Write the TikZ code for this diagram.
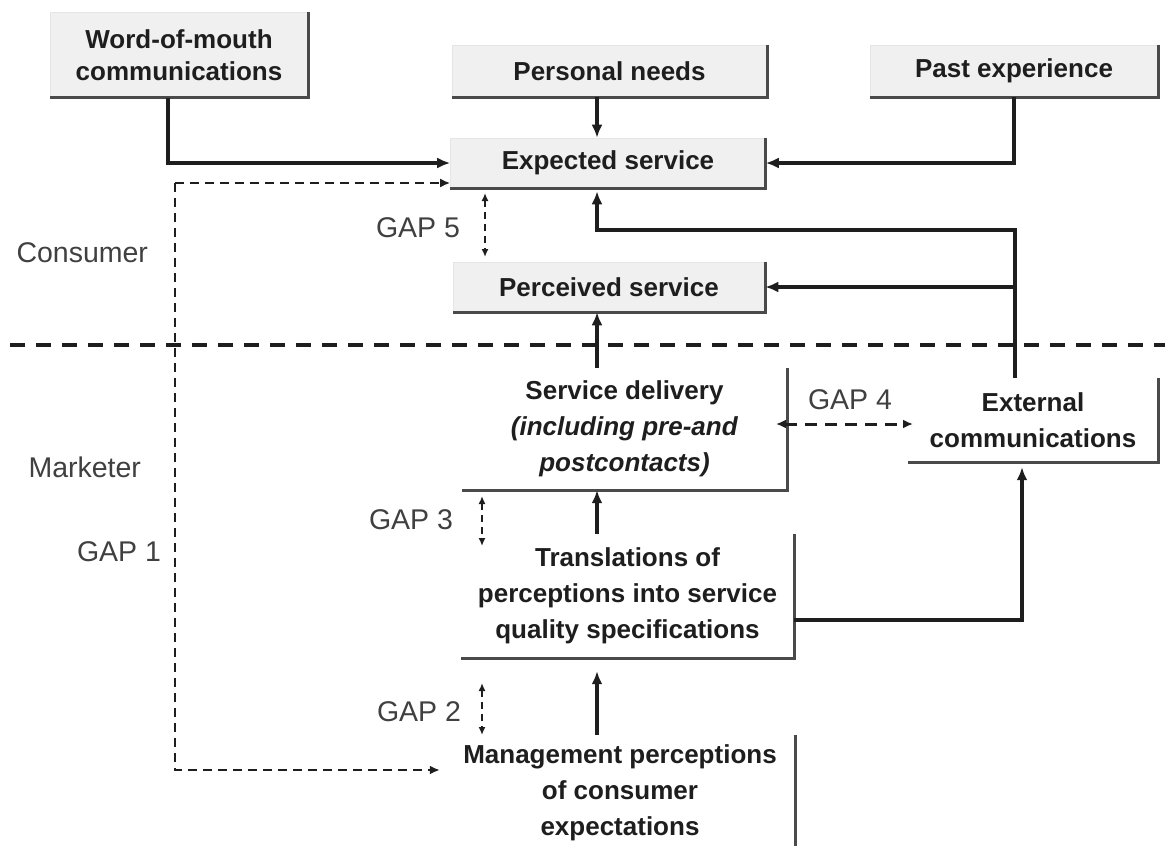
\documentclass[tikz,border=0pt]{standalone}
\usepackage{fontspec}
\setmainfont{Liberation Sans}
\usetikzlibrary{arrows.meta,calc}
\definecolor{boxfill}{HTML}{F0F0F0}
\definecolor{shade}{HTML}{4A4A4A}
\definecolor{ink}{HTML}{1E1E1E}
\tikzset{
  greybox/.style={rectangle,fill=boxfill,draw=white!90!black,line width=0.6pt,text=ink,
    font=\bfseries\fontsize{26}{36}\selectfont,align=center},
  plainbox/.style={rectangle,text=ink,font=\bfseries\fontsize{26}{36}\selectfont,align=center},
  shadowedge/.style={draw=shade,line width=3.2pt},
  conn/.style={ink,line width=3.4pt,-{Latex[length=13pt,width=11pt]}},
  gapone/.style={ink,line width=2.8pt,dash pattern=on 9pt off 6pt,-{Latex[length=10pt,width=9pt]}},
  gaptick/.style={ink,line width=2pt,dash pattern=on 7pt off 5pt,
    {Latex[length=8pt,width=7pt]}-{Latex[length=8pt,width=7pt]}},
  gapfour/.style={ink,line width=3pt,dash pattern=on 12pt off 8pt,
    {Latex[length=10pt,width=9pt]}-{Latex[length=10pt,width=9pt]}},
  divider/.style={ink,line width=3.5pt,dash pattern=on 15pt off 11pt},
  gaplabel/.style={text=ink!85,font=\fontsize{28.5}{30}\selectfont}
}
\newcommand{\boxedge}[1]{\draw[shadowedge] (#1.north east) -- (#1.south east) -- (#1.south west);}

\begin{document}
\begin{tikzpicture}[x=1pt,y=-1pt]
    \fill[white] (0,0) rectangle (1170,846); % background
    \useasboundingbox (0,0) rectangle (1170,846);
    % consumer side
    \node[greybox,font=\bfseries\fontsize{26}{32}\selectfont,minimum width=258,minimum height=85] (wom) at (179,55) {Word-of-mouth\\communications};
    \node[greybox,minimum width=315,minimum height=52] (needs) at (609.5,71) {Personal needs};
    \node[greybox,minimum width=288,minimum height=52] (past) at (1014,71) {Past experience};
    \node[greybox,minimum width=315,minimum height=50] (expected) at (608,163) {Expected service};
    \node[greybox,minimum width=312,minimum height=50] (perceived) at (609,287) {Perceived service};
    \boxedge{wom} \boxedge{needs} \boxedge{past} \boxedge{expected} \boxedge{perceived} % shadows
    % marketer side
    \node[plainbox,minimum width=325,minimum height=122] (delivery) at (624.5,429) {Service delivery\\\textit{(including pre-and}\\\textit{postcontacts)}};
    \node[plainbox,minimum width=250,minimum height=84] (external) at (1033,420) {External\\communications};
    \node[plainbox,minimum width=333,minimum height=124] (transl) at (627.5,596) {Translations of\\perceptions into service\\quality specifications};
    \node[plainbox,minimum width=350,minimum height=116] (mgmt) at (620,793) {Management perceptions\\of consumer\\expectations};
    \boxedge{delivery} \boxedge{external} \boxedge{transl} % open edges
    \draw[shadowedge] (mgmt.north east) -- (mgmt.south east); % runs off the page
    % helper points
    \coordinate (spine) at (597,0);
    \coordinate (feedback) at (1015,230);
    \coordinate (specout) at (1022,620);
    \coordinate (gapcorner) at (175,183);
    \coordinate (gapfoot) at (175,770);
    % solid connectors
    \draw[conn] ([xshift=-11pt]wom.south) |- (expected.west); % word of mouth
    \draw[conn] (needs.south -| spine) -- (expected.north -| spine); % needs
    \draw[conn] (past.south) |- (expected.east); % past experience
    \draw[conn,shorten >=3pt] (external.north -| feedback) -- (feedback) -| (expected.south -| spine); % feedback to expected
    \draw[conn] (feedback |- perceived.east) -- (perceived.east); % feedback to perceived
    \draw[conn] (delivery.north -| spine) -- (perceived.south -| spine); % delivery
    \draw[conn] (transl.north -| spine) -- (delivery.south -| spine); % specs to delivery
    \draw[conn,shorten >=5pt] (transl.east |- specout) -- (specout) -- (external.south -| specout); % specs to external
    \draw[conn,shorten >=13pt] (mgmt.north -| spine) -- (transl.south -| spine); % management
    % divider
    \draw[divider] (10,345) -- (1165,345);
    % gaps
    \draw[gapone] (gapcorner) -- (gapcorner -| expected.west); % GAP 1 top
    \draw[gapone] (gapcorner) -- (gapfoot) -- ([xshift=-5pt]gapfoot -| mgmt.west); % GAP 1 bottom
    \coordinate (g5top) at (485,193);
    \coordinate (g5bot) at (485,257);
    \coordinate (g3top) at (482,496);
    \coordinate (g3bot) at (482,546);
    \coordinate (g2top) at (482,683);
    \coordinate (g2bot) at (482,735);
    \coordinate (g4left) at (776,424);
    \coordinate (g4right) at (913,424);
    \draw[gaptick] (g5top) -- (g5bot); % GAP 5
    \draw[gaptick] (g3top) -- (g3bot); % GAP 3
    \draw[gaptick] (g2top) -- (g2bot); % GAP 2
    \draw[gapfour] (g4left) -- (g4right); % GAP 4
    % labels
    \node[gaplabel,anchor=west] (consumer) at (13,253) {Consumer};
    \node[gaplabel,anchor=west] (marketer) at (25,467) {Marketer};
    \node[gaplabel] (gap1) at (119,552) {GAP 1};
    \node[gaplabel] (gap5) at (418,228) {GAP 5};
    \node[gaplabel] (gap4) at (850,400) {GAP 4};
    \node[gaplabel] (gap3) at (411,520) {GAP 3};
    \node[gaplabel] (gap2) at (419,712) {GAP 2};
\end{tikzpicture}
\end{document}
